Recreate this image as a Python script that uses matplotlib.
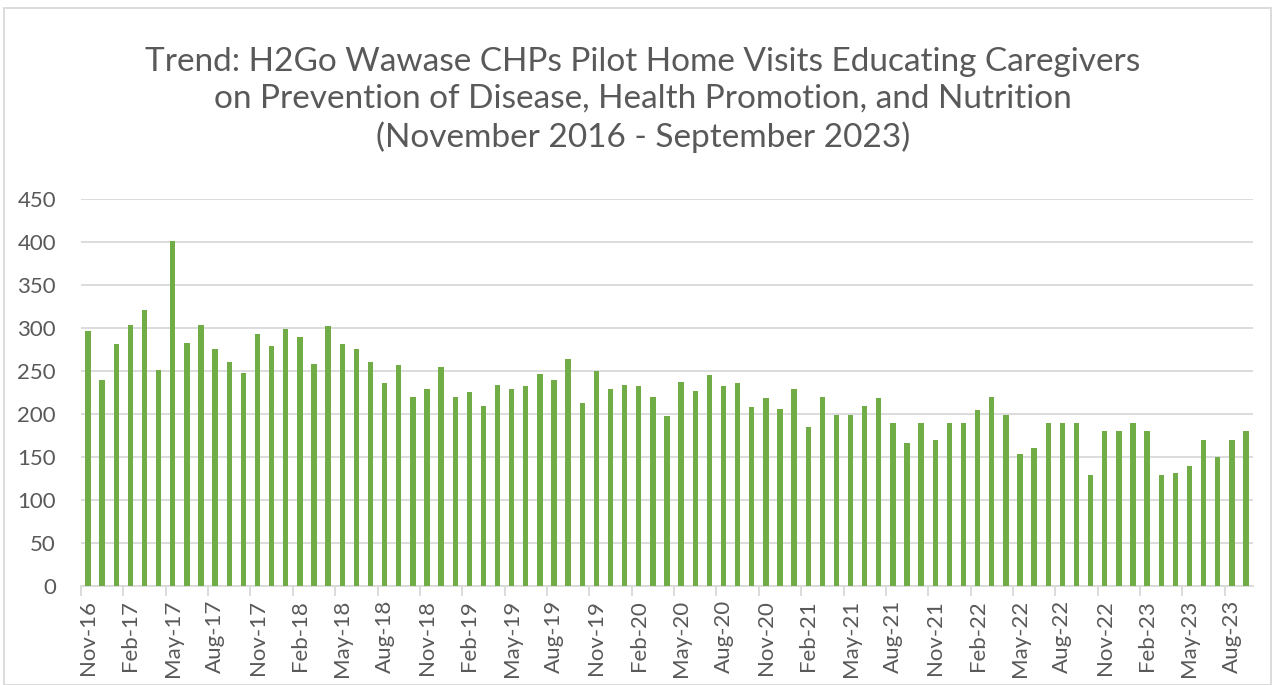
import numpy as np
import matplotlib
matplotlib.use("Agg")
import matplotlib.pyplot as plt
from matplotlib.patches import Rectangle

# ============================================================
# Data (monthly home visits, Nov 2016 - Sep 2023)
# ============================================================

months = ['Nov', 'Dec', 'Jan', 'Feb', 'Mar', 'Apr', 'May', 'Jun',
          'Jul', 'Aug', 'Sep', 'Oct']

visits = [
    297, 240, 281, 303, 321, 251, 401, 283, 303, 276, 260, 248,   # Nov-16 .. Oct-17
    293, 279, 299, 290, 258, 302, 281, 276, 260, 236, 257, 220,   # Nov-17 .. Oct-18
    229, 255, 220, 226, 209, 234, 229, 233, 246, 240, 264, 213,   # Nov-18 .. Oct-19
    250, 229, 234, 233, 220, 198, 237, 227, 245, 232, 236, 208,   # Nov-19 .. Oct-20
    219, 206, 229, 185, 220, 199, 199, 209, 219, 190, 166, 190,   # Nov-20 .. Oct-21
    170, 190, 190, 205, 220, 199, 153, 160, 190, 190, 190, 129,   # Nov-21 .. Oct-22
    180, 180, 190, 180, 129, 131, 139, 170, 150, 170, 180,        # Nov-22 .. Sep-23
]

# build month labels like "Nov-16"
labels = []
year = 16
for i in range(len(visits)):
    m = months[i % 12]
    if m == 'Jan':
        year += 1
    labels.append(f'{m}-{year}')

title = ('Trend: H2Go Wawase CHPs Pilot Home Visits Educating Caregivers\n'
         'on Prevention of Disease, Health Promotion, and Nutrition\n'
         '(November 2016 - September 2023)')

# ============================================================
# Plot
# ============================================================

plt.rcParams['font.family'] = ['Lato', 'DejaVu Sans']

grey = '#595959'
bar_color = '#70AD47'
grid_color = '#D9D9D9'

fig = plt.figure(figsize=(12.75, 6.85), dpi=100)
ax = fig.add_axes([81 / 1275, 1 - 586 / 685, (1253 - 81) / 1275, (586 - 199) / 685])

x = np.arange(len(visits))
ax.bar(x, visits, width=0.38, color=bar_color, zorder=3)

ax.set_xlim(-0.5, len(visits) - 0.5)
ax.set_ylim(0, 450)
ax.set_yticks(np.arange(0, 451, 50))
ax.yaxis.grid(True, color=grid_color, linewidth=1.3, zorder=0)

# labels every third month, tick marks at category boundaries
ax.set_xticks(x[::3])
ax.set_xticklabels(labels[::3], rotation=90)
ax.set_xticks(np.arange(-0.5, len(visits), 3), minor=True)
ax.tick_params(axis='x', which='major', length=0, pad=10, labelsize=16, colors=grey)
ax.tick_params(axis='x', which='minor', length=7, width=1.3, color=grid_color)
ax.tick_params(axis='y', length=0, pad=18, labelsize=16, colors=grey)

for side in ['top', 'right', 'left']:
    ax.spines[side].set_visible(False)
ax.spines['bottom'].set_color(grid_color)
ax.spines['bottom'].set_linewidth(1.3)

fig.text(643 / 1275, 1 - 100 / 685, title, ha='center', va='center',
         fontsize=24, color=grey, linespacing=1.3)

# outer chart border
fig.patches.append(Rectangle((4 / 1275, 0), 1267 / 1275, 1 - 8 / 685,
                             transform=fig.transFigure, fill=False,
                             edgecolor='#D9D9D9', linewidth=1.3))

fig.savefig('out.png', dpi=100)
